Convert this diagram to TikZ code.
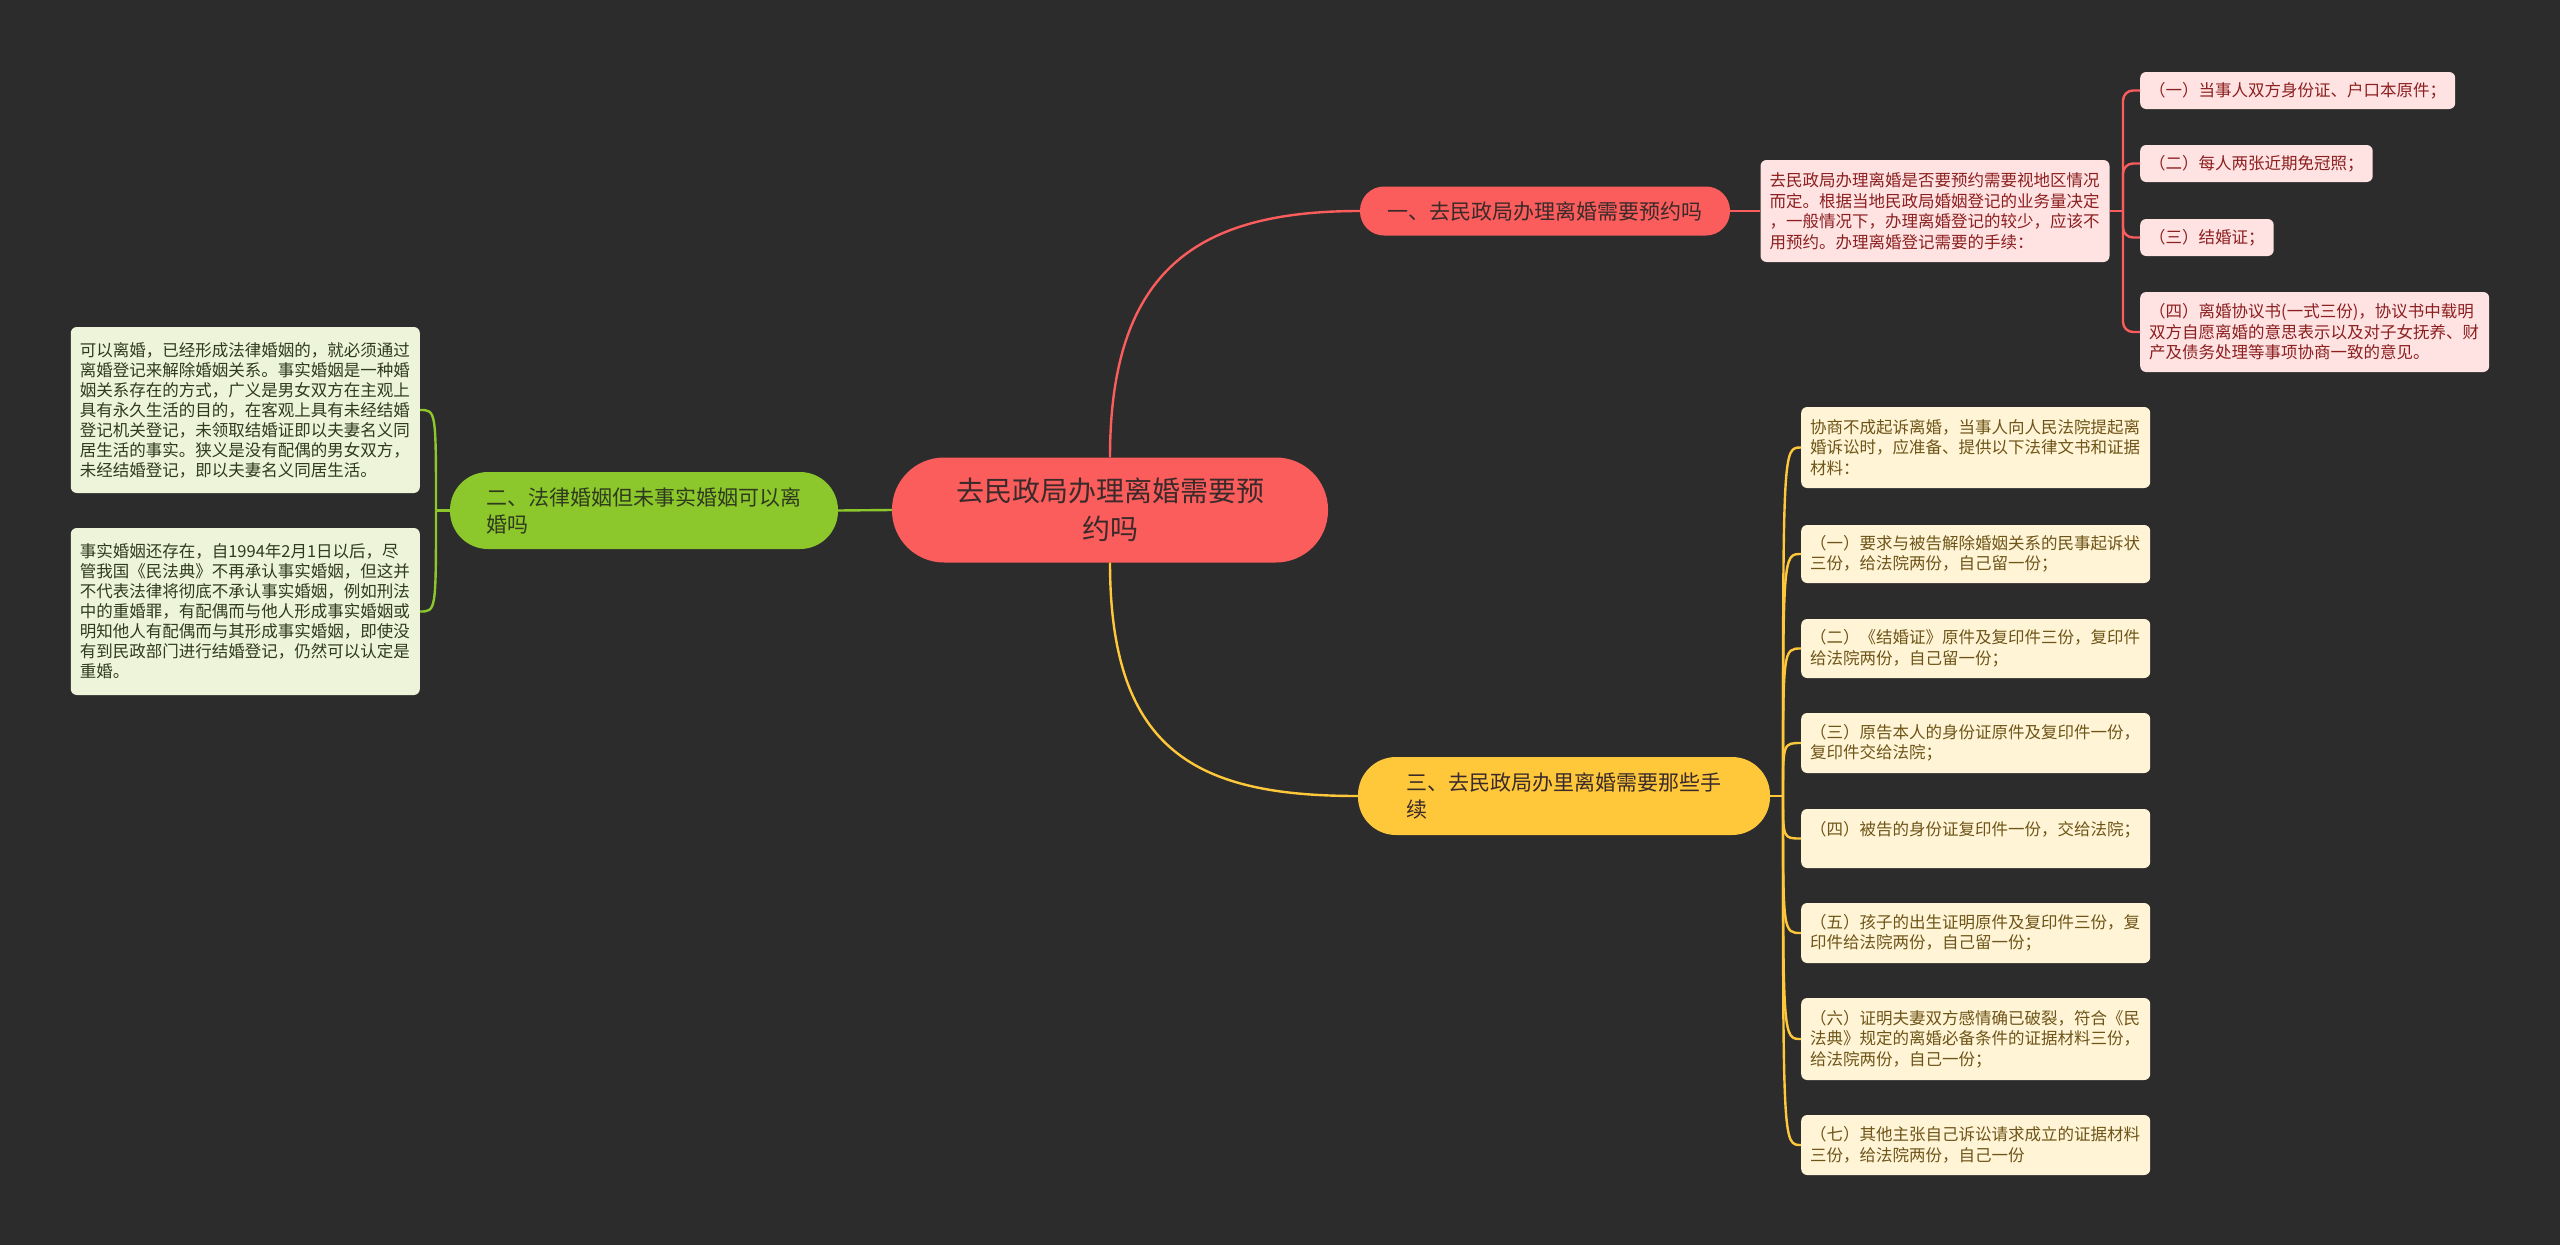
\documentclass[tikz,border=0pt]{standalone}
\usepackage{fontspec}
\setmainfont{Noto Sans CJK SC}
\definecolor{bgc}{HTML}{2C2C2C}
\definecolor{redm}{HTML}{FB5C5C}
\definecolor{redl}{HTML}{FFE3E3}
\definecolor{redt}{HTML}{8C1F1F}
\definecolor{grnm}{HTML}{8CC72B}
\definecolor{grnl}{HTML}{EEF4DA}
\definecolor{grnt}{HTML}{2F3A1E}
\definecolor{ylwm}{HTML}{FFC83B}
\definecolor{ylwl}{HTML}{FFF5D6}
\definecolor{ylwt}{HTML}{6E5418}
\definecolor{darkt}{HTML}{3A2A2A}
\tikzset{
  mainbox/.style={fill=redm, text=darkt, minimum width=436pt, minimum height=105pt,
    rounded corners=52pt, align=center, font=\fontsize{28pt}{38pt}\selectfont},
  topic/.style={inner sep=0pt, text=darkt, font=\fontsize{21pt}{27pt}\selectfont},
  leaf/.style={rounded corners=6pt, inner xsep=9pt, inner ysep=5pt, align=left,
    font=\fontsize{16.5pt}{20.5pt}\selectfont},
  redleaf/.style={leaf, fill=redl, text=redt, anchor=west, minimum height=37pt},
  grnleaf/.style={leaf, fill=grnl, text=grnt, anchor=east, text width=331pt,
    font=\fontsize{16.5pt}{20pt}\selectfont},
  ylwleaf/.style={leaf, fill=ylwl, text=ylwt, anchor=west, text width=331pt},
  link/.style={line width=2.4pt}
}
\begin{document}
\begin{tikzpicture}[x=1pt,y=-1pt]
\fill[bgc] (0,0) rectangle (2560,1245);
\node[mainbox] (ctr) at (1110,510) {去民政局办理离婚需要预\\约吗};
\node[topic, fill=redm, minimum width=370pt, minimum height=49pt, rounded corners=24pt] (b1) at (1545,211) {一、去民政局办理离婚需要预约吗};
\node[topic, fill=grnm, text=grnt, minimum width=388pt, minimum height=77pt, rounded corners=38pt, align=left] (b2) at (644,510.5) {二、法律婚姻但未事实婚姻可以离\\婚吗};
\node[topic, fill=ylwm, text=darkt, minimum width=412pt, minimum height=78pt, rounded corners=38pt, align=left] (b3) at (1564,796) {三、去民政局办里离婚需要那些手\\续};
\node[leaf, fill=redl, text=redt, text width=331pt, minimum height=102pt] (desc) at (1935,211) {去民政局办理离婚是否要预约需要视地区情况\\而定。根据当地民政局婚姻登记的业务量决定\\，一般情况下，办理离婚登记的较少，应该不\\用预约。办理离婚登记需要的手续：};
\node[redleaf] (r1) at (2140,90.5) {（一）当事人双方身份证、户口本原件；};
\node[redleaf] (r2) at (2140,163.5) {（二）每人两张近期免冠照；};
\node[redleaf] (r3) at (2140,237.5) {（三）结婚证；};
\node[redleaf, text width=331pt, minimum height=80pt] (r4) at (2140,332) {（四）离婚协议书(一式三份)，协议书中载明\\双方自愿离婚的意思表示以及对子女抚养、财\\产及债务处理等事项协商一致的意见。};
\node[grnleaf, minimum height=166pt] (g1) at (420,410) {可以离婚，已经形成法律婚姻的，就必须通过\\离婚登记来解除婚姻关系。事实婚姻是一种婚\\姻关系存在的方式，广义是男女双方在主观上\\具有永久生活的目的，在客观上具有未经结婚\\登记机关登记，未领取结婚证即以夫妻名义同\\居生活的事实。狭义是没有配偶的男女双方，\\未经结婚登记，即以夫妻名义同居生活。};
\node[grnleaf, minimum height=167pt] (g2) at (420,611.5) {事实婚姻还存在，自1994年2月1日以后，尽\\管我国《民法典》不再承认事实婚姻，但这并\\不代表法律将彻底不承认事实婚姻，例如刑法\\中的重婚罪，有配偶而与他人形成事实婚姻或\\明知他人有配偶而与其形成事实婚姻，即使没\\有到民政部门进行结婚登记，仍然可以认定是\\重婚。};
\node[ylwleaf, minimum height=81pt] (y0) at (1801,447.5) {协商不成起诉离婚，当事人向人民法院提起离\\婚诉讼时，应准备、提供以下法律文书和证据\\材料：};
\node[ylwleaf, minimum height=58pt] (y1) at (1801,554) {（一）要求与被告解除婚姻关系的民事起诉状\\三份，给法院两份，自己留一份；};
\node[ylwleaf, minimum height=59pt] (y2) at (1801,648.5) {（二）《结婚证》原件及复印件三份，复印件\\给法院两份，自己留一份；};
\node[ylwleaf, minimum height=60pt] (y3) at (1801,743) {（三）原告本人的身份证原件及复印件一份，\\复印件交给法院；};
\node[ylwleaf, minimum height=59pt] (y4) at (1801,838.5) {（四）被告的身份证复印件一份，交给法院；\\\mbox{}};
\node[ylwleaf, minimum height=60pt] (y5) at (1801,933) {（五）孩子的出生证明原件及复印件三份，复\\印件给法院两份，自己留一份；};
\node[ylwleaf, minimum height=82pt] (y6) at (1801,1039) {（六）证明夫妻双方感情确已破裂，符合《民\\法典》规定的离婚必备条件的证据材料三份，\\给法院两份，自己一份；};
\node[ylwleaf, minimum height=60pt] (y7) at (1801,1145) {（七）其他主张自己诉讼请求成立的证据材料\\三份，给法院两份，自己一份};
\coordinate (rj) at (2123,211);
\coordinate (gj) at (436,510.5);
\coordinate (yj) at (1783,796);
\draw[link, redm] (ctr.north) .. controls +(0,-190) and +(-160,0) .. (b1.west);
\draw[link, ylwm] (ctr.south) .. controls +(0,190) and +(-160,0) .. (b3.west);
\draw[link, grnm] (ctr.west) -- (b2.east);
\draw[link, redm] (b1.east) -- (desc.west);
\draw[link, redm] (desc.east) -- (rj);
\foreach \i in {1,...,4}
  \draw[link, redm, rounded corners=10pt] (rj) |- (r\i.west);
\draw[link, grnm] (b2.west) -- (gj);
\foreach \i in {1,2}
  \draw[link, grnm] (gj) .. controls (gj |- g\i.east) .. (g\i.east);
\draw[link, ylwm] (b3.east) -- (yj);
\foreach \i in {0,...,7}
  \draw[link, ylwm] (yj) .. controls (yj |- y\i.west) .. (y\i.west);
\end{tikzpicture}
\end{document}
